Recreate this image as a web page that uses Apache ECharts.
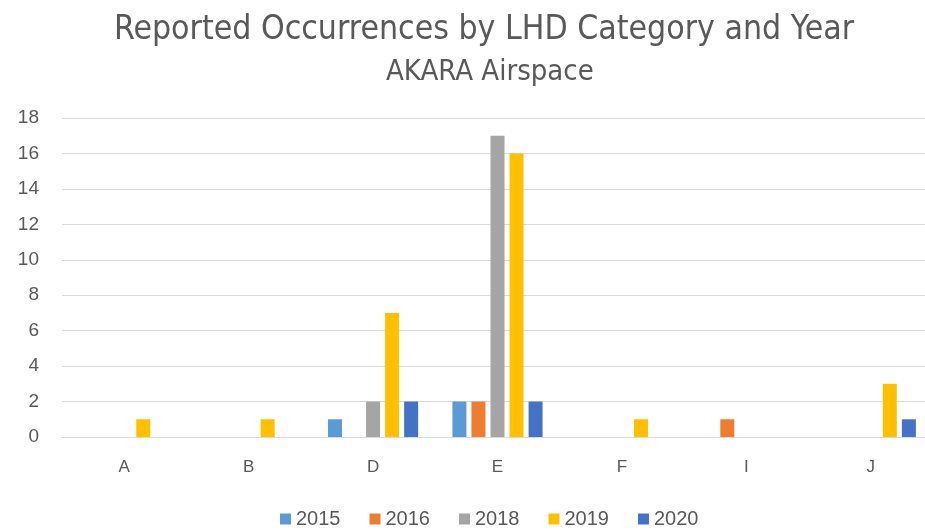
<!DOCTYPE html>
<html><head><meta charset="utf-8">
<script src="https://cdn.jsdelivr.net/npm/echarts@6/dist/echarts.min.js"></script>
<style>html,body{margin:0;padding:0;background:#fff}#c{width:925px;height:531px}</style>
</head><body><div id="c"></div>
<script>
const categories = ['A','B','D','E','F','I','J'];
const years = ['2015','2016','2018','2019','2020'];
const s2015 = [0,0,1,2,0,0,0];
const s2016 = [0,0,0,2,0,1,0];
const s2018 = [0,0,2,17,0,0,0];
const s2019 = [1,1,7,16,1,0,3];
const s2020 = [0,0,2,2,0,0,1];
const yTicks = [0,2,4,6,8,10,12,14,16,18];
const colors = ['#5B9BD5','#ED7D31','#A5A5A5','#FFC000','#4472C4'];
const seriesData = [s2015,s2016,s2018,s2019,s2020];
const NARROW = '"Liberation Sans Narrow", "DejaVu Sans Condensed", sans-serif';
const FONT = '"Liberation Sans", Arial, sans-serif';
const chart = echarts.init(document.getElementById('c'));
chart.setOption({
  animation:false,
  color: colors,
  title:[
    {text:'Reported Occurrences by LHD Category and Year', left:109, top:8,
     textStyle:{fontFamily:NARROW, fontSize:33.5, fontWeight:'normal', color:'#595959'}},
    {text:'AKARA Airspace', left:381, top:53,
     textStyle:{fontFamily:NARROW, fontSize:29, fontWeight:'normal', color:'#595959'}}
  ],
  legend:{top:504, left:275, itemWidth:11, itemHeight:11, itemGap:29, icon:'rect',
    textStyle:{fontFamily:FONT, fontSize:20, color:'#595959'}, data:years},
  grid:{left:62, right:-8, top:118, bottom:94, containLabel:false, outerBoundsMode:'none'},
  xAxis:{type:'category', data:categories,
    axisLine:{lineStyle:{color:'#d9d9d9'}}, axisTick:{show:false},
    axisLabel:{fontFamily:FONT, fontSize:17, color:'#595959', margin:22}},
  yAxis:{type:'value', min:0, max:18, interval:2,
    axisLine:{show:false}, axisTick:{show:false},
    splitLine:{lineStyle:{color:'#d9d9d9', width:1}},
    axisLabel:{fontFamily:FONT, fontSize:19, color:'#595959', margin:23}},
  series: years.map((y,i)=>({name:y, type:'bar', data:seriesData[i], barWidth:14, barGap:'36%'}))
});
</script></body></html>
